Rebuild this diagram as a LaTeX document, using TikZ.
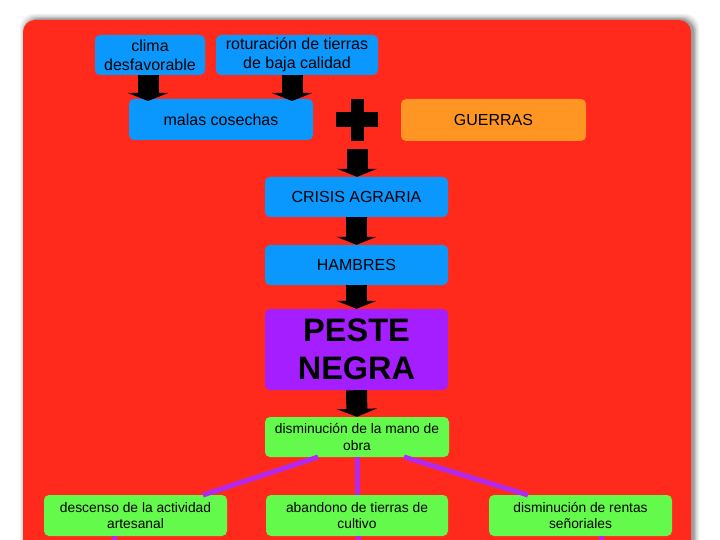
\documentclass[tikz,border=0pt]{standalone}
\usepackage{fontspec}
\setmainfont{Liberation Sans}
\usetikzlibrary{arrows.meta}
\definecolor{fondo}{RGB}{255,42,28}
\definecolor{azul}{RGB}{10,152,255}
\definecolor{naranja}{RGB}{255,150,35}
\definecolor{morado}{RGB}{165,30,255}
\definecolor{verde}{RGB}{100,250,75}
\definecolor{lila}{RGB}{180,40,235}

\begin{document}
\begin{tikzpicture}[x=1pt,y=-1pt,
  caja/.style={rounded corners=5pt,inner sep=1pt,align=center,font=\fontsize{16}{19}\selectfont},
  cajachica/.style={caja,font=\fontsize{13.8}{16.5}\selectfont},
  flecha/.style={line width=21pt,-{Triangle[width=40pt,length=8pt]}},
  enlace/.style={lila,line width=5pt}]
\useasboundingbox (0,0) rectangle (720,540);
\fill[white] (0,0) rectangle (720,540);
\begin{scope}
\clip (0,0) rectangle (720,540);
\foreach \s/\o in {6/.06,4.5/.08,3/.12,1.5/.18}
  \fill[black,opacity=\o,rounded corners=14pt] (23-\s+3,20-\s) rectangle (691+\s+2,570);
\fill[fondo,rounded corners=12pt] (23,20) rectangle (691,570);
\end{scope}
% cajas
\node at (150,55) [caja,fill=azul,minimum width=110pt,minimum height=40pt] (Box1) {clima\\desfavorable};
\node at (297,55) [caja,fill=azul,minimum width=162pt,minimum height=40pt] (Box2) {roturación de tierras\\de baja calidad};
\node at (221,119.5) [caja,fill=azul,minimum width=184pt,minimum height=41pt] (Box3) {malas cosechas};
\node at (493.5,120) [caja,fill=naranja,minimum width=185pt,minimum height=42pt] (Box4) {GUERRAS};
\node at (356.5,197) [caja,fill=azul,minimum width=183pt,minimum height=40pt] (Box5) {CRISIS AGRARIA};
\node at (356.5,265) [caja,fill=azul,minimum width=183pt,minimum height=40pt] (Box6) {HAMBRES};
\node at (356.5,349.5) [caja,fill=morado,minimum width=183pt,minimum height=81pt,font=\fontsize{32.5}{38}\bfseries] (Box7) {PESTE\\NEGRA};
\node at (357,437) [cajachica,fill=verde,minimum width=184pt,minimum height=40pt] (Box8) {disminución de la mano de\\obra};
\node at (135.5,515.5) [cajachica,fill=verde,minimum width=183pt,minimum height=41pt] (Box9) {descenso de la actividad\\artesanal};
\node at (357,515.5) [cajachica,fill=verde,minimum width=182pt,minimum height=41pt] (Box10) {abandono de tierras de\\cultivo};
\node at (580.5,515.5) [cajachica,fill=verde,minimum width=183pt,minimum height=41pt] (Box11) {disminución de rentas\\señoriales};
% signo mas
\fill (350.5,99) rectangle (364,141);
\fill (336,112.5) rectangle (378,127);
\coordinate (Plus) at (357,149);
% flechas
\draw[flecha] (Box1.south -| 148,0) -- (148,101);
\draw[flecha] (Box2.south -| 292,0) -- (292,101);
\draw[flecha] (Plus) -- (Plus |- Box5.north);
\draw[flecha] (Box5.south) -- (Box6.north);
\draw[flecha] (Box6.south) -- (Box7.north);
\draw[flecha] (Box7.south) -- (Box8.north);
% enlaces
\coordinate (end1) at (114,545);
\coordinate (end2) at (358,545);
\coordinate (end3) at (601,545);
\draw[enlace] (318,457) -- (203,495);
\draw[enlace] (Box8.south) -- (Box10.north);
\draw[enlace] (404,457) -- (528,495);
\draw[enlace] (end1 |- Box9.south) -- (end1);
\draw[enlace] (end2 |- Box10.south) -- (end2);
\draw[enlace] (end3 |- Box11.south) -- (end3);
\end{tikzpicture}
\end{document}
